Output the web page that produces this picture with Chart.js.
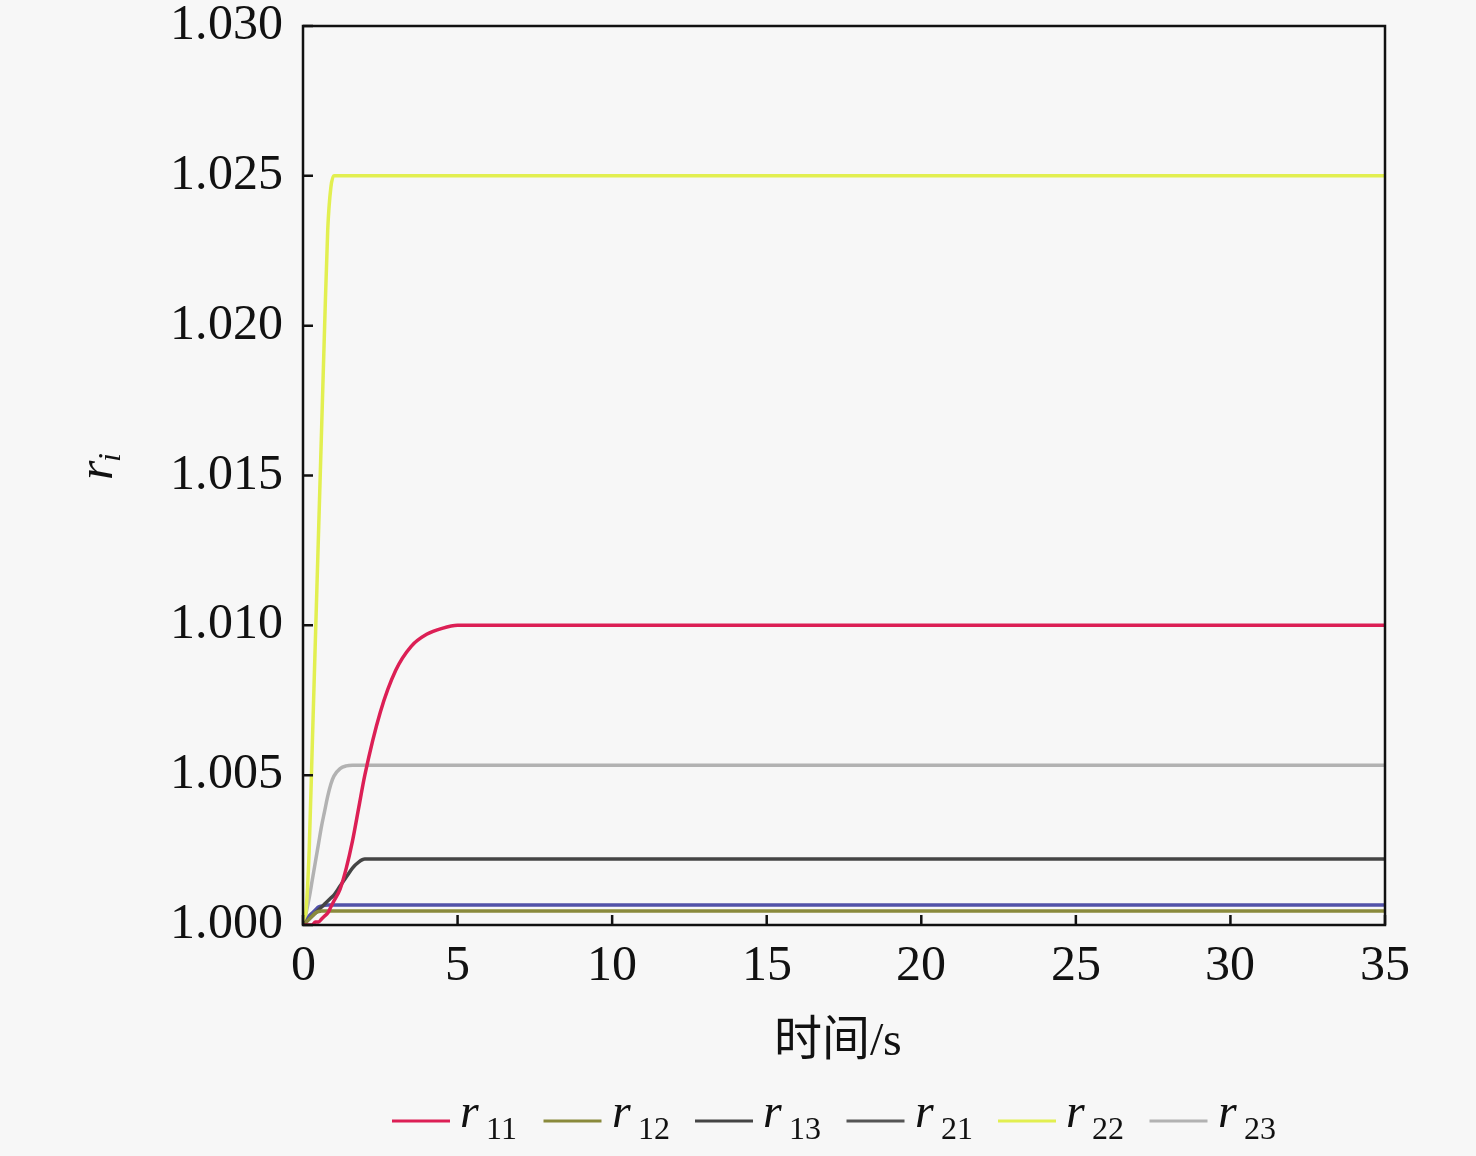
<!DOCTYPE html>
<html>
<head>
<meta charset="utf-8">
<script src="https://cdn.jsdelivr.net/npm/chart.js@4.4.1/dist/chart.umd.min.js"></script>
<style>
  @font-face { font-family: 'TNR'; font-style: normal; src: local('Liberation Serif'), local('LiberationSerif'), local('Liberation Serif Regular'); }
  @font-face { font-family: 'TNR'; font-style: italic; src: local('Liberation Serif Italic'), local('LiberationSerif-Italic'); }
  html, body { margin: 0; padding: 0; background: #f7f7f7; }
  #wrap { width: 1476px; height: 1156px; }
</style>
</head>
<body>
<div id="wrap"><canvas id="chart" width="1476" height="1156"></canvas></div>
<script>
// time axis (s) shared by all series
const time = [0, 0.1, 0.2, 0.3, 0.4, 0.5, 0.6, 0.7, 0.8, 0.9, 1.0, 1.2, 1.4, 1.6, 1.8, 2.0, 2.5, 3.0, 3.5, 4.0, 4.5, 5.0, 6.0, 35];

const r11 = [1.0000, 1.0000, 1.0000, 1.0000, 1.0001, 1.0001, 1.0002, 1.0003, 1.0004, 1.0006, 1.0008, 1.0012, 1.0019, 1.0028, 1.0039, 1.0050, 1.0071, 1.0085, 1.0093, 1.0097, 1.0099, 1.0100, 1.0100, 1.0100];
const r12 = [1.0000, 1.0001, 1.0002, 1.0003, 1.0004, 1.00045, 1.00047, 1.00047, 1.00047, 1.00047, 1.00047, 1.00047, 1.00047, 1.00047, 1.00047, 1.00047, 1.00047, 1.00047, 1.00047, 1.00047, 1.00047, 1.00047, 1.00047, 1.00047];
const r13 = [1.0000, 1.0001, 1.0002, 1.0003, 1.0004, 1.0005, 1.0006, 1.0007, 1.0008, 1.0009, 1.0010, 1.0013, 1.0016, 1.0019, 1.0021, 1.0022, 1.0022, 1.0022, 1.0022, 1.0022, 1.0022, 1.0022, 1.0022, 1.0022];
const r21 = [1.0000, 1.0001, 1.0003, 1.0004, 1.0005, 1.0006, 1.00063, 1.00066, 1.00067, 1.00067, 1.00067, 1.00067, 1.00067, 1.00067, 1.00067, 1.00067, 1.00067, 1.00067, 1.00067, 1.00067, 1.00067, 1.00067, 1.00067, 1.00067];
const r22 = [1.0000, 1.0005, 1.0025, 1.0060, 1.0095, 1.0130, 1.0165, 1.0200, 1.0232, 1.0246, 1.0250, 1.0250, 1.0250, 1.0250, 1.0250, 1.0250, 1.0250, 1.0250, 1.0250, 1.0250, 1.0250, 1.0250, 1.0250, 1.0250];
const r23 = [1.0000, 1.0004, 1.0009, 1.0015, 1.0021, 1.0027, 1.0033, 1.0038, 1.0043, 1.0047, 1.00497, 1.00522, 1.00531, 1.00533, 1.00533, 1.00533, 1.00533, 1.00533, 1.00533, 1.00533, 1.00533, 1.00533, 1.00533, 1.00533];

const seriesNames = ['11', '12', '13', '21', '22', '23'];
const seriesValues = [r11, r12, r13, r21, r22, r23];
const lineColors = ['#dc1f55', '#8a8a3c', '#454545', '#5252a8', '#e2ef50', '#b2b2b2'];
const legendColors = ['#dc1f55', '#8a8a3c', '#454545', '#555555', '#e2ef50', '#b2b2b2'];

const xTickValues = [0, 5, 10, 15, 20, 25, 30, 35];
const yTickValues = [1.000, 1.005, 1.010, 1.015, 1.020, 1.025, 1.030];

const SERIF = 'TNR, "Liberation Serif", serif';

const datasets = seriesValues.map((vals, i) => ({
    label: 'r' + seriesNames[i],
    data: time.map((t, k) => ({ x: t, y: vals[k] })),
    borderColor: lineColors[i],
    borderWidth: 3.5,
    pointRadius: 0,
    fill: false,
    cubicInterpolationMode: 'monotone'
}));

// frame, inward ticks, axis titles and legend
const decorPlugin = {
    id: 'decor',
    beforeDraw(chart) {
        const ctx = chart.ctx;
        ctx.save();
        ctx.fillStyle = '#f7f7f7';
        ctx.fillRect(0, 0, chart.width, chart.height);
        ctx.restore();
    },
    afterDraw(chart) {
        const { ctx, chartArea: a, scales } = chart;
        ctx.save();
        ctx.strokeStyle = '#111';
        ctx.lineWidth = 2.5;
        ctx.strokeRect(a.left, a.top, a.right - a.left, a.bottom - a.top);

        ctx.beginPath();
        xTickValues.forEach(v => {
            const px = scales.x.getPixelForValue(v);
            ctx.moveTo(px, a.bottom);
            ctx.lineTo(px, a.bottom - 10);
        });
        yTickValues.forEach(v => {
            const py = scales.y.getPixelForValue(v);
            ctx.moveTo(a.left, py);
            ctx.lineTo(a.left + 10, py);
        });
        ctx.stroke();

        // x title
        ctx.fillStyle = '#111';
        ctx.font = '48px ' + SERIF + ', "Noto Sans CJK SC"';
        ctx.textAlign = 'center';
        ctx.textBaseline = 'middle';
        ctx.fillText('时间/s', 838, 1042);

        // y title (rotated)
        ctx.save();
        ctx.translate(100, 468);
        ctx.rotate(-Math.PI / 2);
        ctx.textAlign = 'left';
        ctx.textBaseline = 'alphabetic';
        ctx.font = 'italic 50px ' + SERIF;
        ctx.fillText('r', -12, 12);
        ctx.font = 'italic 32px ' + SERIF;
        ctx.fillText('i', 6, 20);
        ctx.restore();

        // legend
        seriesNames.forEach((name, i) => {
            const x0 = 392 + i * 151.5;
            const y0 = 1121;
            ctx.strokeStyle = legendColors[i];
            ctx.lineWidth = 3;
            ctx.beginPath();
            ctx.moveTo(x0, y0);
            ctx.lineTo(x0 + 58, y0);
            ctx.stroke();
            ctx.fillStyle = '#111';
            ctx.textAlign = 'left';
            ctx.textBaseline = 'alphabetic';
            ctx.font = 'italic 48px ' + SERIF;
            ctx.fillText('r', x0 + 68, 1127);
            ctx.font = '32px ' + SERIF;
            ctx.fillText(name, x0 + 94, 1139);
        });
        ctx.restore();
    }
};

function noPad(s) {
    s.paddingTop = 0;
    s.paddingBottom = 0;
    s.paddingLeft = 0;
    s.paddingRight = 0;
}

function drawChart() {
    new Chart(document.getElementById('chart'), {
        type: 'line',
        data: { datasets: datasets },
        plugins: [decorPlugin],
        options: {
            responsive: false,
            animation: false,
            devicePixelRatio: 1,
            layout: { padding: { top: 26, right: 91, left: 0, bottom: 0 } },
            plugins: {
                legend: { display: false },
                tooltip: { enabled: false }
            },
            scales: {
                x: {
                    type: 'linear',
                    min: 0,
                    max: 35,
                    grid: { display: false },
                    border: { display: false },
                    afterBuildTicks: s => { s.ticks = xTickValues.map(v => ({ value: v })); },
                    afterFit: s => { s.height = 231; noPad(s); },
                    ticks: {
                        padding: 4,
                        maxRotation: 0,
                        color: '#111',
                        font: { family: SERIF, size: 50 },
                        callback: v => String(v)
                    }
                },
                y: {
                    type: 'linear',
                    min: 1.0,
                    max: 1.03,
                    grid: { display: false },
                    border: { display: false },
                    afterBuildTicks: s => { s.ticks = yTickValues.map(v => ({ value: v })); },
                    afterFit: s => { s.width = 303; noPad(s); },
                    ticks: {
                        padding: 12,
                        color: '#111',
                        font: { family: SERIF, size: 50 },
                        callback: v => Number(v).toFixed(3)
                    }
                }
            }
        }
    });
}

Promise.all([
    document.fonts.load('50px TNR'),
    document.fonts.load('italic 50px TNR'),
    document.fonts.load('48px "Noto Sans CJK SC"', '时间')
]).catch(() => {}).then(drawChart);
</script>
</body>
</html>
